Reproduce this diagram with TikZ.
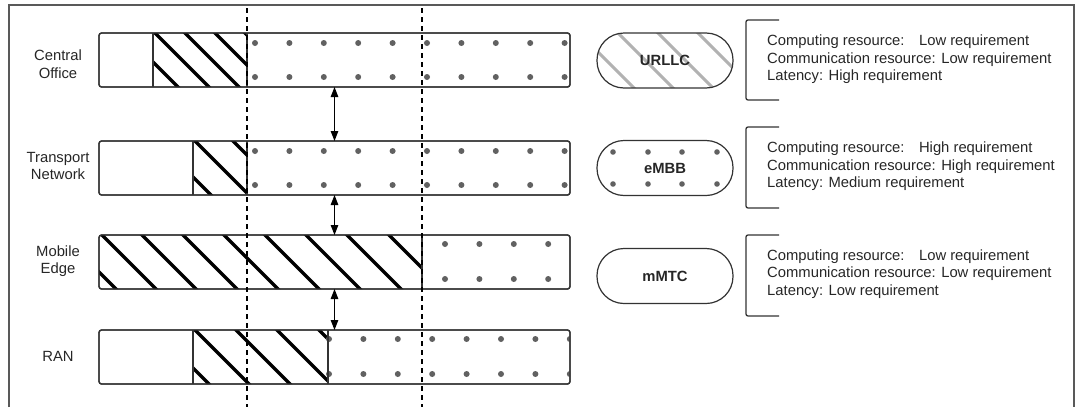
\documentclass[tikz,border=0pt]{standalone}
\usepackage{fontspec}
\setmainfont{Liberation Sans}
\usetikzlibrary{arrows.meta}

% diagonal stripes inside a clipped band: left, right, top, bottom, top intercepts
\newcommand\hatchzone[5]{%
  \begin{scope}
    \clip (#1,#3) rectangle (#2,#4);
    \foreach \t in {#5}
      \draw[hatchline] (\t-10,#3-10) -- (\t+#4-#3+10,#4+10);
  \end{scope}}

% two rows of grey dots: first x, count-1, top row y, bottom row y
\newcommand\dotgrid[4]{%
  \foreach \i in {0,...,#2}
    \foreach \yy in {#3,#4}
      \fill[dot] (#1+34.4*\i,\yy) circle (3pt);}

% clip to a bar node, paint its content, then restroke its border
\newcommand\fillbar[2]{%
  \begin{scope}
    \clip[rounded corners=2.5pt] (#1.north west) rectangle (#1.south east);
    #2
  \end{scope}
  \draw[baredge] (#1.north west) rectangle (#1.south east);}

\begin{document}
\begin{tikzpicture}[x=1pt,y=-1pt,
  every node/.style={font=\fontsize{14.8}{17.5}\selectfont, text=black!85},
  frame/.style={draw=black!65, line width=1.3pt},
  bar/.style={draw=black!80, fill=white, line width=1.3pt, rounded corners=2.5pt,
              minimum width=471pt, minimum height=54pt, inner sep=0pt, outer sep=0pt},
  baredge/.style={draw=black!80, line width=1.3pt, rounded corners=2.5pt},
  divider/.style={draw=black!80, line width=1.1pt},
  hatchline/.style={line width=3.2pt, black},
  dot/.style={fill=black!62},
  guide/.style={draw=black, line width=1.1pt, dash pattern=on 5pt off 4pt},
  link/.style={{Triangle[length=10pt,width=7.5pt]}-{Triangle[length=10pt,width=7.5pt]}, line width=1.2pt},
  pill/.style={draw=black!80, fill=white, line width=1.2pt, rounded corners=27pt,
               minimum width=136pt, minimum height=55pt, inner sep=0pt,
               font=\fontsize{14.8}{17.5}\selectfont\bfseries},
  bracket/.style={draw=black!80, line width=1.3pt, rounded corners=2pt},
  spec/.style={anchor=west, align=left, inner sep=0pt},
  layer/.style={align=center, inner sep=0pt}
]
\useasboundingbox (0,0) rectangle (1083,407);

% outer frame (open at the bottom)
\draw[frame] (9,407) -- (9,5) -- (1074,5) -- (1074,407);

% layer labels
\node[layer] (lco)  at (58,64)  {Central\\Office};
\node[layer] (ltn)  at (58,166) {Transport\\Network};
\node[layer] (lme)  at (58,261) {Mobile\\Edge};
\node[layer] (lran) at (58,356) {RAN};

% resource bars
\node[bar] (co)  at (334.5,60)  {};
\node[bar] (tn)  at (334.5,168) {};
\node[bar] (me)  at (334.5,262) {};
\node[bar] (ran) at (334.5,357) {};

\fillbar{co}{\hatchzone{153}{247}{33}{87}{124,155,185,215,245}
             \dotgrid{255}{9}{43}{77}}
\fillbar{tn}{\hatchzone{193}{247}{141}{195}{157,195,233}
             \dotgrid{255}{9}{151}{185}}
\fillbar{me}{\hatchzone{90}{422}{235}{289}{62,102,142,183,224,265,306,347,389}
             \dotgrid{445}{3}{244}{279}}
\fillbar{ran}{\hatchzone{193}{328}{330}{384}{155,195,236,277,319}
              \dotgrid{329}{7}{339}{374}}

% segment boundaries inside the bars
\draw[divider] (153,33) -- (153,87);
\draw[divider] (247,33) -- (247,87);
\draw[divider] (193,141) -- (193,195);
\draw[divider] (247,141) -- (247,195);
\draw[divider] (422,235) -- (422,289);
\draw[divider] (193,330) -- (193,384);
\draw[divider] (328,330) -- (328,384);

% links between layers
\draw[link] (co.south) -- (tn.north);
\draw[link] (tn.south) -- (me.north);
\draw[link] (me.south) -- (ran.north);

% vertical guides
\draw[guide] (247,8) -- (247,407);
\draw[guide] (422,8) -- (422,407);

% service types
\node[pill, path picture={
    \foreach \t in {-92,-53,-13,27}
      \draw[black!30, line width=3pt]
        ([xshift=\t pt, yshift=6pt]path picture bounding box.north) -- ++(70,70);}]
  (urllc) at (665,60.5) {URLLC};
\node[pill, path picture={
    \foreach \dx in {-52,-17,17,52}
      \foreach \dy in {-16,16}
        \fill[dot] ([xshift=\dx pt, yshift=\dy pt]path picture bounding box.center) circle (2.8pt);}]
  (embb) at (665,168) {eMBB};
\node[pill] (mmtc) at (665,276) {mMTC};

% requirement brackets
\draw[bracket] (779,20) -- (746,20) -- (746,100) -- (779,100);
\draw[bracket] (779,127) -- (746,127) -- (746,208) -- (779,208);
\draw[bracket] (779,235) -- (746,235) -- (746,316) -- (779,316);

% requirement texts
\node[spec] (r1) at (767,59.5)
  {Computing resource:\hspace{9pt} Low requirement\\Communication resource: Low requirement\\Latency: High requirement};
\node[spec] (r2) at (767,166.5)
  {Computing resource:\hspace{9pt} High requirement\\Communication resource: High requirement\\Latency: Medium requirement};
\node[spec] (r3) at (767,274)
  {Computing resource:\hspace{9pt} Low requirement\\Communication resource: Low requirement\\Latency: Low requirement};
\end{tikzpicture}
\end{document}
